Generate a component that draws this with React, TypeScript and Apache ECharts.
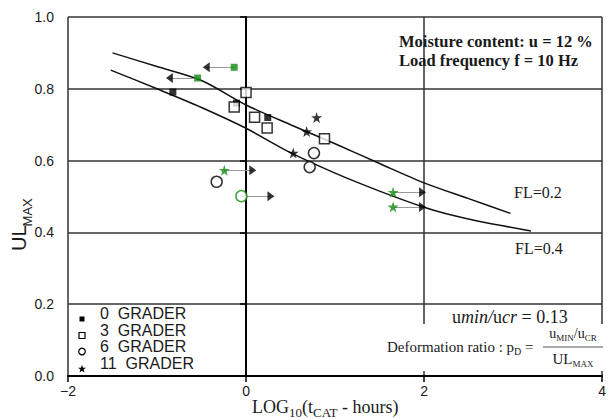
import React, { useEffect, useRef } from "react";
import * as echarts from "echarts";

// ---- data ----
const xTickValues = [-2, 0, 2, 4];
const yTickValues = [0, 0.2, 0.4, 0.6, 0.8, 1.0];

const fl02X = [-1.5, -1.0, -0.5, 0, 0.5, 1.0, 1.5, 2.0, 2.5, 2.97];
const fl02Y = [0.9, 0.862, 0.823, 0.755, 0.7, 0.647, 0.592, 0.538, 0.494, 0.453];
const fl04X = [-1.52, -1.0, -0.5, 0, 0.5, 1.0, 1.5, 2.0, 2.25, 2.6, 3.2];
const fl04Y = [0.852, 0.8, 0.748, 0.69, 0.622, 0.565, 0.515, 0.47, 0.452, 0.432, 0.404];

const grade0X = [-0.822, -0.107, 0.244];
const grade0Y = [0.791, 0.76, 0.72];
const grade0GreenX = [-0.133, -0.544];
const grade0GreenY = [0.86, 0.83];
const grade3X = [0.0, -0.133, 0.096, 0.237, 0.881];
const grade3Y = [0.79, 0.749, 0.721, 0.691, 0.661];
const grade6X = [0.763, 0.715, -0.33];
const grade6Y = [0.621, 0.582, 0.541];
const grade6GreenX = [-0.052];
const grade6GreenY = [0.501];
const grade11X = [0.793, 0.681, 0.53];
const grade11Y = [0.72, 0.681, 0.621];
const grade11GreenX = [-0.244, 1.652, 1.652];
const grade11GreenY = [0.573, 0.512, 0.471];

const arrowFromX = [-0.133, -0.544, -0.244, -0.052, 1.652, 1.652];
const arrowToX = [-0.447, -0.861, 0.076, 0.28, 1.983, 1.983];
const arrowY = [0.86, 0.83, 0.573, 0.501, 0.512, 0.471];

const legendLabels = ["0  GRADER", "3  GRADER", "6  GRADER", "11  GRADER"];

// ---- styles ----
const SANS = '"Liberation Sans", Arial, sans-serif';
const SERIF = '"Liberation Serif", "Times New Roman", serif';
const GREEN = "#0f8a0f";
const INK = "#1a1a1a";
const STAR =
  "path://M50,0 L61.2,34.5 L97.6,34.5 L68.2,55.9 L79.4,90.5 L50,69.1 L20.6,90.5 L31.8,55.9 L2.4,34.5 L38.8,34.5 Z";

type Piece = { t: string; s: number; it?: boolean; b?: boolean; dy?: number };

let measureCtx: CanvasRenderingContext2D | null = null;
function fontStr(p: Piece, family: string) {
  return `${p.it ? "italic " : ""}${p.b ? "bold " : ""}${p.s}px ${family}`;
}
function measure(p: Piece, family: string) {
  if (!measureCtx) measureCtx = document.createElement("canvas").getContext("2d");
  measureCtx!.font = fontStr(p, family);
  return measureCtx!.measureText(p.t).width;
}
function run(x: number, baseline: number, pieces: Piece[], family: string, align = "left", fill = INK) {
  const widths = pieces.map((p) => measure(p, family));
  const total = widths.reduce((a, b) => a + b, 0);
  let cx = align === "center" ? x - total / 2 : x;
  return pieces.map((p, i) => {
    const el = {
      type: "text",
      x: cx,
      y: baseline + (p.dy || 0) - 0.34 * p.s,
      z: 101,
      style: {
        text: p.t,
        fontSize: p.s,
        fontFamily: family,
        fontStyle: p.it ? "italic" : "normal",
        fontWeight: p.b ? "bold" : "normal",
        fill,
        align: "left",
        verticalAlign: "middle",
      },
    };
    cx += widths[i];
    return el;
  });
}

function starPoints(cx: number, cy: number, r: number) {
  const pts: number[][] = [];
  for (let i = 0; i < 10; i++) {
    const rr = i % 2 === 0 ? r : r * 0.4;
    const a = -Math.PI / 2 + (i * Math.PI) / 5;
    pts.push([cx + rr * Math.cos(a), cy + rr * Math.sin(a)]);
  }
  return pts;
}

const pairs = (xs: number[], ys: number[]) => xs.map((x, i) => [x, ys[i]]);

export default function App() {
  const ref = useRef<HTMLDivElement>(null);
  useEffect(() => {
    if (!ref.current) return;
    const chart = echarts.init(ref.current, null, { renderer: "svg" });

    const graphics: any[] = [];
    // white box behind the deformation-ratio note
    graphics.push({
      type: "rect",
      z: 100,
      shape: { x: 400, y: 324, width: 206, height: 47 },
      style: { fill: "#fff" },
    });
    // top-right notes
    graphics.push(...run(399, 47, [{ t: "Moisture content: u = 12 %", s: 16.5, b: true }], SERIF));
    graphics.push(...run(399, 66, [{ t: "Load frequency f = 10 Hz", s: 16.5, b: true }], SERIF));
    // FL labels
    graphics.push(...run(514, 198, [{ t: "FL=0.2", s: 16 }], SERIF));
    graphics.push(...run(515, 254, [{ t: "FL=0.4", s: 16 }], SERIF));
    // umin/ucr
    graphics.push(
      ...run(
        452,
        323,
        [
          { t: "u", s: 18 },
          { t: "min/", s: 18, it: true },
          { t: "u", s: 18 },
          { t: "cr", s: 18, it: true },
          { t: " = 0.13", s: 18 },
        ],
        SERIF
      )
    );
    // Deformation ratio
    graphics.push(
      ...run(
        387,
        352,
        [
          { t: "Deformation ratio : p", s: 15 },
          { t: "D", s: 10, dy: 3 },
          { t: " =", s: 15 },
        ],
        SERIF
      )
    );
    graphics.push(
      ...run(
        573,
        338,
        [
          { t: "u", s: 14 },
          { t: "MIN", s: 9, dy: 3 },
          { t: "/u", s: 14 },
          { t: "CR", s: 9, dy: 3 },
        ],
        SERIF,
        "center"
      )
    );
    graphics.push({
      type: "line",
      z: 101,
      shape: { x1: 543, y1: 347, x2: 603, y2: 347 },
      style: { stroke: "#555", lineWidth: 1 },
    });
    graphics.push(
      ...run(
        573,
        364,
        [
          { t: "UL", s: 15 },
          { t: "MAX", s: 9, dy: 3 },
        ],
        SERIF,
        "center"
      )
    );
    // x-axis title
    graphics.push(
      ...run(
        252,
        413,
        [
          { t: "LOG", s: 18 },
          { t: "10", s: 13, dy: 4 },
          { t: "(t", s: 18 },
          { t: "CAT", s: 13, dy: 4 },
          { t: " - hours)", s: 18 },
        ],
        SERIF
      )
    );
    // y-axis title (rotated)
    const ulW = measure({ t: "UL", s: 20 }, SANS);
    graphics.push({
      type: "text",
      x: 25.5 - 0.3465 * 20,
      y: 251,
      rotation: Math.PI / 2,
      z: 101,
      style: { text: "UL", fontSize: 20, fontFamily: SANS, fill: INK, align: "left", verticalAlign: "middle" },
    });
    graphics.push({
      type: "text",
      x: 32 - 0.3465 * 13,
      y: 251 - ulW + 1,
      rotation: Math.PI / 2,
      z: 101,
      style: { text: "MAX", fontSize: 13, fontFamily: SANS, fill: INK, align: "left", verticalAlign: "middle" },
    });
    // legend
    const legendTextY = [313.5, 330, 346, 363];
    const legendMarkY = [319, 335.5, 351.5, 369];
    legendLabels.forEach((lab, i) => {
      graphics.push({
        type: "text",
        x: 100,
        y: legendTextY[i],
        z: 101,
        style: { text: lab, fontSize: 16, fontFamily: SANS, fill: INK, align: "left", verticalAlign: "middle" },
      });
    });
    graphics.push({
      type: "rect",
      z: 101,
      shape: { x: 79.5, y: legendMarkY[0] - 2.5, width: 5, height: 5 },
      style: { fill: "#000" },
    });
    graphics.push({
      type: "rect",
      z: 101,
      shape: { x: 79, y: legendMarkY[1] - 3, width: 6, height: 6 },
      style: { fill: "#fff", stroke: "#000", lineWidth: 1.2 },
    });
    graphics.push({
      type: "circle",
      z: 101,
      shape: { cx: 82, cy: legendMarkY[2], r: 3.3 },
      style: { fill: "#fff", stroke: "#000", lineWidth: 1.2 },
    });
    graphics.push({
      type: "polygon",
      z: 101,
      shape: { points: starPoints(82, legendMarkY[3], 4.2) },
      style: { fill: "#000" },
    });

    chart.setOption({
      animation: false,
      grid: { left: 68, right: 1, top: 17, bottom: 43 },
      xAxis: {
        type: "value",
        min: xTickValues[0],
        max: xTickValues[xTickValues.length - 1],
        interval: 2,
        axisLine: { show: true, onZero: false, lineStyle: { color: "#000", width: 2 } },
        axisTick: { show: true, length: 6, lineStyle: { color: "#000", width: 1.5 } },
        axisLabel: {
          fontSize: 14,
          color: INK,
          fontFamily: SANS,
          margin: 8,
          formatter: (v: number) => (v < 0 ? "\u2212" + Math.abs(v) : String(v)),
        },
        splitLine: { show: true, lineStyle: { color: "#333", width: 1.5 } },
      },
      yAxis: {
        type: "value",
        min: yTickValues[0],
        max: yTickValues[yTickValues.length - 1],
        interval: 0.2,
        axisLine: { show: true, lineStyle: { color: "#000", width: 2 } },
        axisTick: { show: true, length: 6, lineStyle: { color: "#000", width: 1.5 } },
        axisLabel: {
          fontSize: 14,
          color: INK,
          fontFamily: SANS,
          margin: 14,
          formatter: (v: number) => v.toFixed(1),
        },
        splitLine: { show: true, lineStyle: { color: "#333", width: 1.5 } },
      },
      graphic: graphics,
      series: [
        {
          type: "line",
          name: "FL=0.2",
          data: pairs(fl02X, fl02Y),
          smooth: 0.3,
          showSymbol: false,
          lineStyle: { color: "#111", width: 1.5 },
          z: 2,
        },
        {
          type: "line",
          name: "FL=0.4",
          data: pairs(fl04X, fl04Y),
          smooth: 0.3,
          showSymbol: false,
          lineStyle: { color: "#111", width: 1.5 },
          z: 2,
        },
        {
          type: "lines",
          coordinateSystem: "cartesian2d",
          data: arrowFromX.map((x, i) => ({
            coords: [
              [x, arrowY[i]],
              [arrowToX[i], arrowY[i]],
            ],
          })),
          lineStyle: { color: "#999", width: 1, opacity: 1 },
          z: 3,
        },
        {
          type: "scatter",
          data: arrowToX.map((x, i) => ({
            value: [x, arrowY[i]],
            symbolRotate: x < arrowFromX[i] ? 90 : -90,
          })),
          symbol: "triangle",
          symbolSize: [10, 7],
          itemStyle: { color: "#000" },
          z: 4,
        },
        {
          type: "scatter",
          name: "0  GRADER",
          data: pairs(grade0X, grade0Y),
          symbol: "rect",
          symbolSize: 7,
          itemStyle: { color: "#000" },
          z: 5,
        },
        {
          type: "scatter",
          data: pairs(grade0GreenX, grade0GreenY),
          symbol: "rect",
          symbolSize: 7,
          itemStyle: { color: GREEN },
          z: 5,
        },
        {
          type: "scatter",
          name: "3  GRADER",
          data: pairs(grade3X, grade3Y),
          symbol: "rect",
          symbolSize: 10,
          itemStyle: { color: "#fff", borderColor: "#000", borderWidth: 1.5 },
          z: 5,
        },
        {
          type: "scatter",
          name: "6  GRADER",
          data: pairs(grade6X, grade6Y),
          symbol: "circle",
          symbolSize: 11,
          itemStyle: { color: "#fff", borderColor: "#000", borderWidth: 1.5 },
          z: 5,
        },
        {
          type: "scatter",
          data: pairs(grade6GreenX, grade6GreenY),
          symbol: "circle",
          symbolSize: 11,
          itemStyle: { color: "#fff", borderColor: GREEN, borderWidth: 1.5 },
          z: 5,
        },
        {
          type: "scatter",
          name: "11  GRADER",
          data: pairs(grade11X, grade11Y),
          symbol: STAR,
          symbolSize: 11,
          itemStyle: { color: "#000" },
          z: 6,
        },
        {
          type: "scatter",
          data: pairs(grade11GreenX, grade11GreenY),
          symbol: STAR,
          symbolSize: 11,
          itemStyle: { color: GREEN },
          z: 6,
        },
      ],
    });
    return () => chart.dispose();
  }, []);
  return (
    <div
      ref={ref}
      style={{ position: "fixed", left: 0, top: 0, width: 609, height: 419, background: "#fff" }}
    />
  );
}
